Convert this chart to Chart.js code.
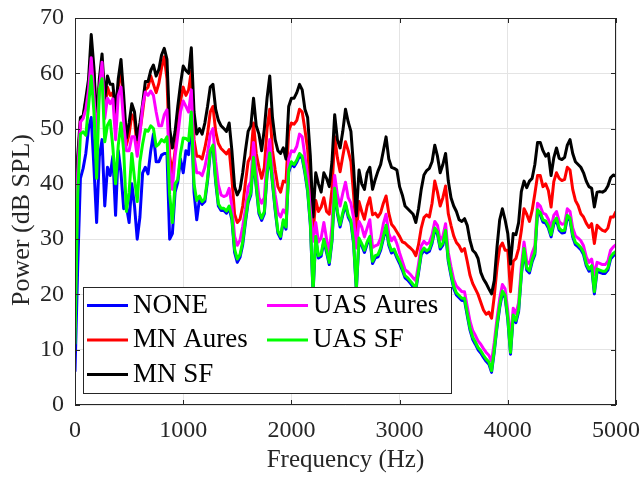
<!DOCTYPE html>
<html>
<head>
<meta charset="utf-8">
<script src="https://cdn.jsdelivr.net/npm/chart.js@4.4.1/dist/chart.umd.min.js"></script>
<style>
  html, body { margin: 0; padding: 0; background: #fff; }
  #wrap { width: 641px; height: 477px; }
</style>
</head>
<body>
<div id="wrap"><canvas id="chart" width="641" height="477"></canvas></div>
<script>
// frequency bins, 25 Hz apart, 0..5000 Hz
const hz = Array.from({ length: 201 }, (_, i) => i * 25);

// dB SPL per bin (one line of values per 1000 Hz)
const none = [
  6, 25, 41, 42.8, 45.5, 50, 52, 43, 33, 45, 48, 36, 43, 41.5, 45, 34.3, 46, 42, 35.5, 36, 33, 40, 36, 30, 34, 42, 43, 41.8, 46, 49, 44, 44, 45.2, 45.5, 45.5, 30, 31, 38.5, 40.3, 44.5, 42,
  46, 45.3, 52.8, 38.5, 33.5, 37.2, 36.3, 36.8, 40.5, 45.6, 46.6, 40.3, 36, 35.2, 35.2, 34.7, 35.6, 33.5, 27.6, 25.8, 26.7, 29, 33, 36.6, 38, 44.4, 39.4, 34.6, 33.4, 34.6, 41.6, 45.2, 40.1, 35.2, 31.1, 30.1, 33.1, 31.8, 42.1, 43.6,
  43.1, 43.9, 45.1, 44.6, 41.9, 38.6, 32.6, 20.2, 30.1, 26.6, 26.9, 29.6, 27.6, 25.4, 29.6, 38.8, 34.6, 32.2, 34.4, 36.2, 34, 33, 29.1, 20.7, 29.8, 28.8, 27.6, 29.1, 30.1, 25.6, 26.6, 26.8, 28, 30.1, 32.1, 28.9, 27.5, 27.8, 26.6, 25.6,
  24.4, 23, 22.6, 22, 21.4, 20.8, 23.9, 27.2, 28, 27.5, 27.8, 29.2, 31.6, 30.9, 28.2, 28.9, 31.2, 26, 23.4, 21.1, 19.9, 19.4, 18.9, 18.9, 16.2, 13.6, 11.9, 11, 10, 9.4, 8.6, 7.9, 7.4, 5.9, 9.6, 14, 17.6, 20.2, 19.4, 15.4,
  9.2, 15.9, 14.9, 16.9, 23.4, 27.9, 24.4, 23.9, 25.9, 27.2, 34.9, 34.4, 33.1, 32.9, 32, 30.4, 32.7, 33.4, 31.6, 31.1, 31.2, 33.9, 33.4, 30.4, 29, 28.6, 28.1, 27.2, 25.2, 24.2, 24.8, 20.1, 24.2, 24, 23.8, 23.8, 24.4, 26.4, 27, 27.4
];
const mnAures = [
  16.5, 43, 51.5, 52, 55, 57.5, 64.5, 60, 49.5, 57.5, 62, 53, 57.5, 56, 56.5, 51, 57.5, 61, 54, 47, 49, 52.5, 51.5, 46.5, 49.5, 53, 57, 57.5, 59.5, 58, 56.5, 58.2, 61, 63, 59, 45, 42, 46, 50, 55, 57.5,
  56, 57, 60.4, 48, 45, 45, 44.5, 46.5, 49, 53, 54, 49.5, 47.3, 46.4, 45.9, 45.4, 46.2, 41, 34.5, 33, 33.6, 36, 40.2, 44, 45, 51, 45.5, 43, 41, 43, 50, 53.5, 46, 42.5, 39.5, 38.5, 40.5, 40.3, 49.5, 51,
  50.8, 51.5, 53.5, 53, 49.8, 46.3, 39, 31, 37, 35, 35.8, 37.5, 35, 34.5, 39, 48.5, 44.7, 42.2, 45, 47.6, 46, 44, 38, 30.8, 36.8, 35, 33.6, 36, 37.5, 34.4, 34.7, 34, 34.8, 36.5, 37.8, 34.7, 32.7, 32.1, 31.3, 30.5,
  29.5, 29.3, 28.8, 28.4, 27.9, 27, 29, 32, 33.9, 34.4, 34, 36.5, 40.5, 38.5, 36, 37.5, 39.6, 34.6, 32.5, 30.6, 29.4, 28.8, 27.8, 28.3, 26, 23.5, 22, 21, 20, 18.6, 17.2, 16.4, 16.8, 15.7, 19.7, 24.8, 28.5, 29.3, 28, 28,
  20.5, 26, 26.5, 28.3, 31.5, 35.5, 34.5, 33.2, 35.2, 38.2, 41.5, 41.5, 39.5, 40, 38.8, 35.8, 40.4, 42, 41, 40.6, 40.8, 43, 42.5, 39, 37, 36.1, 34.6, 34, 32.9, 32.1, 32.8, 29.2, 32.5, 32, 31.6, 31.4, 32, 34, 34, 35
];
const mnSF = [
  18, 45, 52, 52.3, 55.5, 58.9, 67, 61, 51, 59, 63.5, 55.5, 59.5, 58, 58, 53, 59, 62.5, 56, 48.3, 51, 54.5, 53, 48, 51, 54.5, 58.5, 58.5, 60.5, 61.5, 59.5, 60.7, 63.3, 64.5, 62.5, 50, 46.5, 49.5, 54, 58, 61.3,
  60.5, 60, 64.6, 53, 49, 50, 49, 51, 54, 57.5, 58, 53.5, 51.5, 50.5, 50, 49.5, 51, 46, 39.5, 38, 39, 42, 46, 49.5, 50.5, 55.5, 50.5, 49, 46, 50, 55.5, 59.5, 52, 48, 46, 45.5, 46.5, 44.5, 54, 55.5,
  55.5, 56.5, 58, 57, 53.5, 52, 45, 34, 42, 40, 38.5, 42, 41, 39.5, 44, 52.5, 48, 46.5, 49.5, 53.5, 51.2, 49.5, 43, 34.2, 42.5, 40, 39, 42, 43, 39, 40.8, 42.3, 43.5, 46, 48.5, 44.5, 43, 42.8, 42.5, 39.5,
  38, 36, 35.5, 35, 34.5, 33, 35.5, 39, 41.6, 42.4, 42.8, 44, 47, 45, 42, 43.5, 45.5, 40.5, 37.5, 36, 35, 33.5, 33.2, 33.7, 32.5, 29.8, 28, 27.5, 26.5, 24, 22.8, 22, 21, 20.1, 22.5, 28.5, 33.5, 35.5, 33.5, 31,
  25.5, 31, 30.8, 33, 38.6, 40.5, 39.3, 40.5, 41, 43.5, 47.5, 47.5, 46, 45, 45.5, 41.5, 44.7, 46.5, 44.6, 44.4, 44.8, 47, 48, 45.5, 44, 43.5, 43, 42, 40.5, 39.5, 39.2, 35.8, 38.5, 38.6, 38.5, 38.8, 39.6, 41.1, 41.6, 41.4
];
const uasAures = [
  14, 42, 51.2, 51.8, 53.5, 57, 62.8, 56, 48, 57, 62, 51.8, 55.5, 54.5, 55.4, 48, 56, 57.5, 51, 46, 46, 48.5, 48.5, 45, 49, 54, 56.6, 56, 56.8, 56, 53, 50.5, 50.5, 52.5, 53.4, 43, 39, 45, 48.8, 53, 55,
  54, 53, 57, 45, 42, 42, 41.5, 43, 45.5, 49, 50, 44, 39.8, 38, 37.7, 37.9, 39.2, 36, 30.5, 28.9, 29.8, 32.3, 35.4, 39.4, 40.4, 47.5, 42.2, 37.5, 36.5, 37.5, 44.5, 48, 42.2, 38, 34.8, 34, 35.3, 34.6, 44.5, 46,
  45.8, 46.8, 49, 48.5, 45, 41.5, 35.2, 29.6, 33, 29.5, 30.2, 33, 30, 27.5, 32.5, 41.5, 38, 36, 38.3, 40.3, 37.5, 36.5, 33.8, 28.4, 33.2, 32.2, 30.4, 32, 33.5, 28.5, 28.8, 29, 30.2, 32.8, 34.5, 31, 29.7, 30.4, 29.2, 27.5,
  26, 24.5, 24.1, 23.6, 23, 22.5, 25.5, 28.8, 29.6, 29.1, 29.4, 30.8, 33.2, 32.5, 29.8, 30.5, 32.8, 27.6, 25, 22.7, 21.5, 21, 20.5, 20.5, 17.8, 15.2, 13.5, 12.6, 11.6, 11, 10.2, 9.5, 9, 7.9, 11.3, 15.6, 19.2, 21.8, 21, 17,
  11.5, 17.5, 16.5, 18.5, 25, 29.5, 26, 25.5, 27.5, 28.8, 36.5, 36, 34.7, 34.5, 33.6, 32, 34.3, 35, 33.2, 32.7, 32.8, 35.5, 35, 32, 30.6, 30.2, 29.7, 28.8, 26.8, 25.8, 26.4, 23.5, 25.8, 25.6, 25.4, 25.4, 26, 28, 28.6, 29
];
const uasSF = [
  11, 38, 49, 49.4, 48.8, 54, 59.5, 53, 41, 57, 59, 47.6, 50.6, 51.5, 46.6, 40, 47, 51, 46, 35, 38.5, 45.5, 41, 36.8, 44, 47.2, 49.8, 49.5, 50.5, 50, 46.8, 47.2, 48, 47.6, 48.5, 38, 33, 40, 40.8, 45.5, 48.3,
  48.2, 47.8, 53, 40, 37, 37.8, 36.8, 37.3, 41, 46, 47, 40.8, 36.4, 35.6, 35.6, 35.1, 36, 34, 28.2, 26.4, 27.2, 29.5, 33.5, 37, 38.4, 44.8, 39.8, 35, 33.8, 35, 42, 45.6, 40.5, 35.6, 31.5, 30.5, 33.5, 32.2, 42.5, 44,
  43.5, 44.3, 45.5, 45, 42.3, 39, 33, 20.5, 30.5, 27, 27.3, 30, 28, 25.8, 30, 39.2, 35, 32.6, 34.8, 36.6, 34.4, 33.4, 29.5, 21, 30.2, 29.2, 28, 29.5, 30.5, 26, 27, 27.2, 28.4, 30.5, 32.5, 29.3, 27.9, 28.2, 27, 26,
  24.8, 23.4, 23, 22.4, 21.8, 21.2, 24.3, 27.6, 28.4, 27.9, 28.2, 29.6, 32, 31.3, 28.6, 29.3, 31.6, 26.4, 23.8, 21.5, 20.3, 19.8, 19.3, 19.3, 16.6, 14, 12.3, 11.4, 10.4, 9.8, 9, 8.3, 7.8, 6.2, 10, 14.4, 18, 20.6, 19.8, 15.8,
  9.5, 16.3, 15.3, 17.3, 23.8, 28.3, 24.8, 24.3, 26.3, 27.6, 35.3, 34.8, 33.5, 33.3, 32.4, 30.8, 33.1, 33.8, 32, 31.5, 31.6, 34.3, 33.8, 30.8, 29.4, 29, 28.5, 27.6, 25.6, 24.6, 25.2, 20.5, 24.6, 24.4, 24.2, 24.2, 24.8, 26.8, 27.4, 27.8
];

const xTicks = [0, 1000, 2000, 3000, 4000, 5000];
const yTicks = [0, 10, 20, 30, 40, 50, 60, 70];

// plotting order = matlab order, later ones end up on top
const series = [
  { label: 'NONE', values: none, color: '#0000ff' },
  { label: 'MN Aures', values: mnAures, color: '#ff0000' },
  { label: 'MN SF', values: mnSF, color: '#000000' },
  { label: 'UAS Aures', values: uasAures, color: '#ff00ff' },
  { label: 'UAS SF', values: uasSF, color: '#00ff00' }
];

const serif = "'Liberation Serif', 'Times New Roman', serif";
const axisColor = '#262626';

// box, inward ticks, legend and axis labels, matlab style
const matlabAxes = {
  id: 'matlabAxes',
  afterDatasetsDraw(chart) {
    const { ctx, chartArea: a, scales } = chart;
    ctx.save();
    ctx.strokeStyle = axisColor;
    ctx.lineWidth = 1;
    ctx.beginPath();
    xTicks.forEach(v => {
      const px = Math.round(scales.x.getPixelForValue(v)) + 0.5;
      ctx.moveTo(px, a.bottom); ctx.lineTo(px, a.bottom - 5);
      ctx.moveTo(px, a.top); ctx.lineTo(px, a.top + 5);
    });
    yTicks.forEach(v => {
      const py = Math.round(scales.y.getPixelForValue(v)) + 0.5;
      ctx.moveTo(a.left, py); ctx.lineTo(a.left + 5, py);
      ctx.moveTo(a.right, py); ctx.lineTo(a.right - 5, py);
    });
    ctx.stroke();
    ctx.strokeRect(Math.round(a.left) + 0.5, Math.round(a.top) + 0.5,
                   Math.round(a.width) - 1, Math.round(a.height) - 1);

    // legend, two columns filled top to bottom
    ctx.fillStyle = '#ffffff';
    ctx.fillRect(83, 287, 368, 106);
    ctx.strokeStyle = axisColor;
    ctx.strokeRect(83.5, 287.5, 368, 106);
    ctx.font = '27px ' + serif;
    ctx.textBaseline = 'alphabetic';
    ctx.textAlign = 'left';
    const cols = [87, 267];
    const rows = [312.5, 347, 381.5];
    series.forEach((s, i) => {
      const c = i < 3 ? 0 : 1;
      const r = i < 3 ? i : i - 3;
      const x0 = cols[c], y0 = rows[r];
      ctx.strokeStyle = s.color;
      ctx.lineWidth = 3;
      ctx.beginPath();
      ctx.moveTo(x0, y0 - 7);
      ctx.lineTo(x0 + 41, y0 - 7);
      ctx.stroke();
      ctx.fillStyle = '#000000';
      ctx.fillText(s.label, x0 + 46, y0);
    });
    ctx.restore();
  },
  afterDraw(chart) {
    const { ctx, chartArea: a } = chart;
    ctx.save();
    ctx.fillStyle = axisColor;
    ctx.font = '25px ' + serif;
    ctx.textAlign = 'center';
    ctx.textBaseline = 'middle';
    ctx.fillText('Frequency (Hz)', (a.left + a.right) / 2, 460);
    ctx.font = '26px ' + serif;
    ctx.translate(22, 220);
    ctx.rotate(-Math.PI / 2);
    ctx.fillText('Power (dB SPL)', 0, 0);
    ctx.restore();
  }
};

const ctx = document.getElementById('chart').getContext('2d');
new Chart(ctx, {
  type: 'line',
  data: {
    datasets: series.map((s, i) => ({
      label: s.label,
      data: hz.map((f, k) => ({ x: f, y: s.values[k] })),
      borderColor: s.color,
      borderWidth: 3,
      borderJoinStyle: 'round',
      pointRadius: 0,
      fill: false,
      tension: 0,
      order: series.length - i
    }))
  },
  options: {
    responsive: false,
    animation: false,
    devicePixelRatio: 1,
    layout: { padding: { top: 18, right: 25, left: 0, bottom: 0 } },
    plugins: { legend: { display: false }, tooltip: { enabled: false } },
    scales: {
      x: {
        type: 'linear',
        min: 0,
        max: 5000,
        afterFit: s => { s.height = 72; s.paddingLeft = 0; s.paddingRight = 0; },
        afterBuildTicks: s => { s.ticks = xTicks.map(v => ({ value: v })); },
        ticks: { color: axisColor, padding: 11, maxRotation: 0,
                 callback: v => String(v),
                 font: { family: serif, size: 24 } },
        grid: { color: '#e4e4e4', drawTicks: false },
        border: { display: false }
      },
      y: {
        min: 0,
        max: 70,
        afterFit: s => { s.width = 75; s.paddingTop = 0; s.paddingBottom = 0; },
        afterBuildTicks: s => { s.ticks = yTicks.map(v => ({ value: v })); },
        ticks: { color: axisColor, padding: 11,
                 callback: v => String(v),
                 font: { family: serif, size: 24 } },
        grid: { color: '#e4e4e4', drawTicks: false },
        border: { display: false }
      }
    }
  },
  plugins: [matlabAxes]
});
</script>
</body>
</html>
